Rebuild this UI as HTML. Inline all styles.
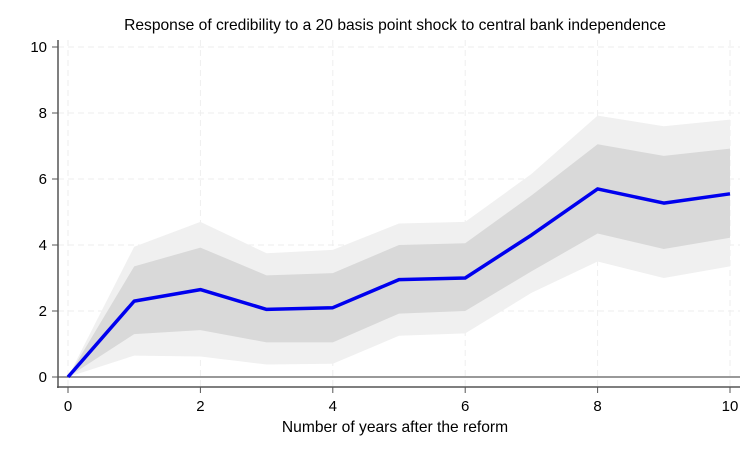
<!DOCTYPE html><html><head><style>body{margin:0;background:#fff}svg{display:block;font-family:"Liberation Sans",Arial,sans-serif}</style></head><body>
<svg id="s" width="756" height="454" xmlns="http://www.w3.org/2000/svg"></svg>
<script>
const X=v=>68+v*66.2, Y=v=>377-v*33;
const m=[0,2.3,2.65,2.05,2.1,2.95,3.0,4.3,5.7,5.27,5.55];
const il=[0,1.3,1.42,1.05,1.05,1.92,2.0,3.2,4.35,3.88,4.22];
const ih=[0,3.35,3.92,3.08,3.15,4.0,4.05,5.5,7.05,6.7,6.92];
const ol=[0,0.65,0.62,0.38,0.4,1.25,1.32,2.55,3.5,3.0,3.35];
const oh=[0,3.95,4.7,3.75,3.85,4.65,4.7,6.15,7.92,7.6,7.8];
const pts=a=>a.map((v,i)=>X(i).toFixed(1)+','+Y(v).toFixed(1));
const band=(lo,hi)=>pts(hi).concat(pts(lo).reverse()).join(' ');
let h='';
for(let i=0;i<=10;i+=2){h+=`<line x1="${X(i)}" y1="40" x2="${X(i)}" y2="387" stroke="#eee" stroke-dasharray="6,4"/>`;
h+=`<line x1="58" y1="${Y(i)}" x2="740" y2="${Y(i)}" stroke="#eee" stroke-dasharray="6,4"/>`;}
h+=`<polygon points="${band(ol,oh)}" fill="#f0f0f0"/><polygon points="${band(il,ih)}" fill="#d9d9d9"/>`;
h+=`<line x1="58" y1="377" x2="740" y2="377" stroke="#333" stroke-width="1"/>`;
h+=`<polyline points="${pts(m).join(' ')}" fill="none" stroke="#0000ee" stroke-width="3.5" stroke-linejoin="round"/>`;
h+=`<line x1="58" y1="40" x2="58" y2="388" stroke="#555" stroke-width="1.5"/><line x1="57" y1="387" x2="740" y2="387" stroke="#555" stroke-width="1.5"/>`;
for(let i=0;i<=10;i+=2){h+=`<line x1="52" y1="${Y(i)}" x2="58" y2="${Y(i)}" stroke="#555"/><text x="47" y="${Y(i)+5}" font-size="15" text-anchor="end" fill="#000">${i}</text>`;
h+=`<line x1="${X(i)}" y1="387" x2="${X(i)}" y2="393" stroke="#555"/><text x="${X(i)}" y="411" font-size="15" text-anchor="middle" fill="#000">${i}</text>`;}
h+=`<text x="395" y="30" font-size="15.6" text-anchor="middle" fill="#000">Response of credibility to a 20 basis point shock to central bank independence</text>`;
h+=`<text x="395" y="432" font-size="15.6" text-anchor="middle" fill="#000">Number of years after the reform</text>`;
document.getElementById('s').innerHTML=h;
</script></body></html>
